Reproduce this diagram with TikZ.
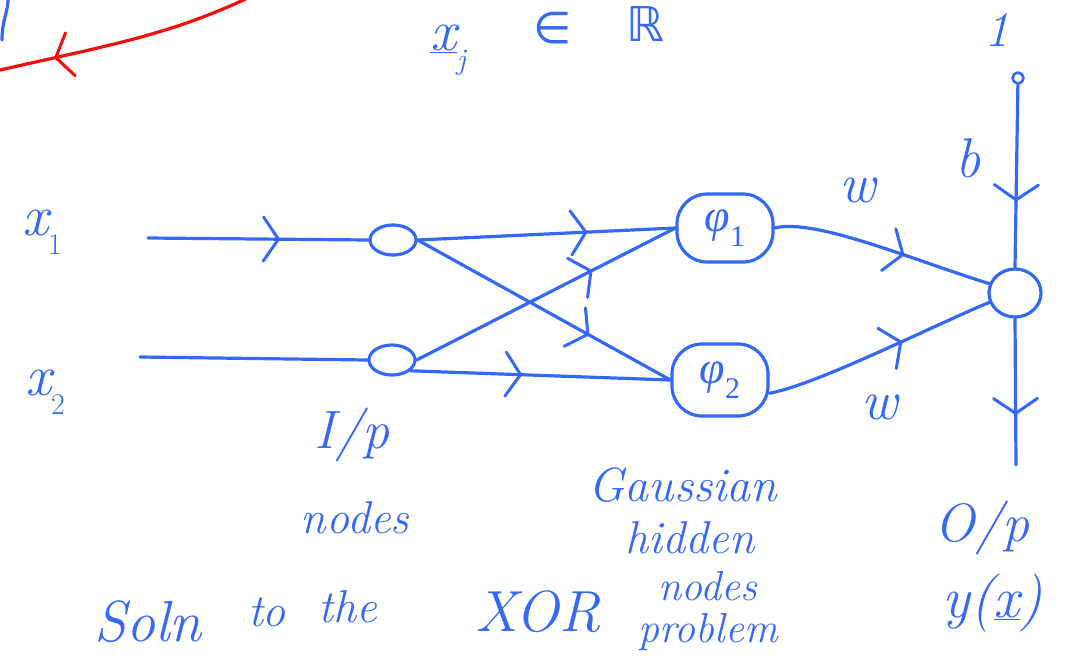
\documentclass[tikz,border=0pt]{standalone}
\usepackage{fontspec}
\usetikzlibrary{arrows.meta,decorations.markings,shapes.geometric}
\newfontfamily\greekfont{Liberation Serif}
\newfontfamily\symfont{DejaVu Sans}
\newcommand\lowidx[1]{\raisebox{-0.32em}{\fontsize{30}{30}\selectfont\upshape #1}}
\definecolor{ink}{RGB}{52,104,246}
\definecolor{redink}{RGB}{245,12,12}
\tikzset{
  pen/.style={draw=ink, line width=3.2pt, line cap=round, line join=round},
  redpen/.style={draw=redink, line width=3.2pt, line cap=round},
  hand/.style={text=ink, font=\fontsize{#1}{#1}\selectfont\itshape, inner sep=0pt},
  barb/.style={postaction={decorate}, decoration={markings,
    mark=at position #1 with {\arrow{Straight Barb[length=15pt,width=44pt,line width=3pt,color=ink,line cap=round]}}}},
  redbarb/.style={postaction={decorate}, decoration={markings,
    mark=at position #1 with {\arrow{Straight Barb[length=15pt,width=44pt,line width=3pt,color=redink,line cap=round]}}}},
  inode/.style={pen, ellipse, minimum width=46pt, minimum height=30pt, inner sep=0pt},
  hnode/.style={pen, rectangle, rounded corners=30pt, minimum width=96pt, minimum height=68pt, text=ink,
    font=\fontsize{46}{46}\selectfont\greekfont\itshape, inner sep=0pt},
}
\begin{document}
\begin{tikzpicture}[x=1pt,y=-1pt]
\useasboundingbox (0,0) rectangle (1076,657);

% stroke cut off at the top-left corner
\draw[pen] (8,0) .. controls (8,12) and (2,20) .. (2,40);

% red arrow coming in from the top
\coordinate (r0) at (252,-4);
\coordinate (r1) at (0,70);
\draw[redpen, redbarb=0.79] (r0) .. controls (170,35) and (110,45) .. (r1);

% vector notation
\node[hand=58] (xj) at (448,50) {\underline{x}\lowidx{\itshape j}};
\node[text=ink, font=\fontsize{44}{44}\selectfont\symfont, inner sep=0pt] (in) at (553,28) {∈};
\node[text=ink, font=\fontsize{48}{48}\selectfont\symfont, inner sep=0pt] (reals) at (645,24) {ℝ};

% input nodes
\node[inode] (in1) at (393,240) {};
\node[inode] (in2) at (392,360) {};
\coordinate (s1) at (148,238);
\coordinate (s2) at (140,357);
\node[hand=58] (x1) at (42,232) {x\lowidx{1}};
\node[hand=58] (x2) at (45,392) {x\lowidx{2}};
\draw[pen, barb=0.6] (s1) -- (in1.west);
\draw[pen] (s2) -- (in2.west);

% Gaussian hidden nodes
\node[hnode] (h1) at (725,228) {φ\lowidx{1}};
\node[hnode, minimum height=72pt] (h2) at (720,380) {φ\lowidx{2}};

\draw[pen, barb=0.66] (in1.east) -- (h1.west);
\draw[pen, barb=0.68] (in1.east) -- (h2.west);
\draw[pen, barb=0.68] (in2.east) -- (h1.west);
\draw[pen, barb=0.43] (in2.-30) -- (h2.west);

% output node with bias
\node[pen, ellipse, minimum width=52pt, minimum height=48pt, inner sep=0pt] (out) at (1015,293) {};
\node[pen, circle, minimum size=11pt, inner sep=0pt, line width=2.6pt] (bias) at (1018,78) {};
\node[hand=50] (one) at (997,30) {1};
\node[hand=56] (b) at (968,158) {b};
\draw[pen, barb=0.64] (bias) -- (out.north);

\draw[pen, barb=0.6] (h1.east) .. controls +(40,-10) and +(-80,-25) .. (out.160);
\draw[pen, barb=0.6] (h2.-15) .. controls +(50,-10) and +(-60,25) .. (out.200);
\node[hand=56] (w1) at (858,190) {w};
\node[hand=56] (w2) at (880,407) {w};

\coordinate (yend) at (1016,465);
\draw[pen, barb=0.66] (out.south) -- (yend);

% captions
\node[hand=54] (ip) at (352,435) {I/p};
\node[hand=46] (ipn) at (355,518) {nodes};
\node[hand=48] (g1) at (683,485) {Gaussian};
\node[hand=46] (g2) at (690,538) {hidden};
\node[hand=42] (g3) at (708,586) {nodes};
\node[hand=42] (g4) at (708,632) {problem};
\node[hand=54] (op) at (982,528) {O/p};
\node[hand=58] (yx) at (993,603) {y(\underline{x})};

\node[hand=58] (t1) at (148,622) {Soln};
\node[hand=46] (t2) at (267,612) {to};
\node[hand=46] (t3) at (348,607) {the};
\node[hand=58] (t4) at (538,612) {XOR};
\end{tikzpicture}
\end{document}
